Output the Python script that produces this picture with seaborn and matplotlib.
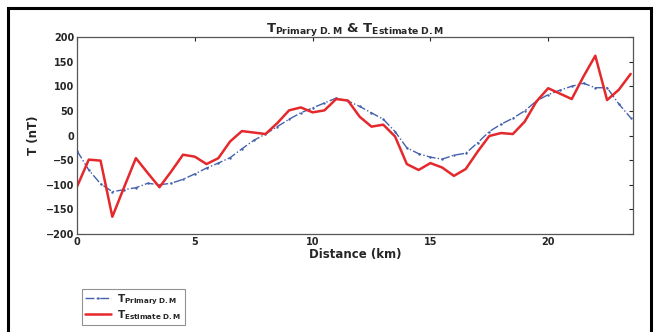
import numpy as np
import pandas as pd
import matplotlib
matplotlib.use("Agg")
import matplotlib.pyplot as plt
from matplotlib.patches import Rectangle
import seaborn as sns

distance = [0.0, 0.5, 1.0, 1.5, 2.0, 2.5, 3.0, 3.5, 4.0, 4.5, 5.0, 5.5, 6.0, 6.5, 7.0, 7.5,
            8.0, 8.5, 9.0, 9.5, 10.0, 10.5, 11.0, 11.5, 12.0, 12.5, 13.0, 13.5, 14.0, 14.5,
            15.0, 15.5, 16.0, 16.5, 17.0, 17.5, 18.0, 18.5, 19.0, 19.5, 20.0, 20.5, 21.0,
            21.5, 22.0, 22.5, 23.0, 23.5]
t_primary = [-31, -70, -98, -114, -110, -106, -97, -100, -97, -89, -78, -66, -56, -45, -27, -10,
             3, 18, 33, 46, 56, 66, 76, 70, 59, 46, 33, 8, -25, -37,
             -44, -48, -40, -36, -15, 8, 23, 35, 50, 70, 83, 92, 100,
             106, 97, 97, 64, 36]
t_estimate = [-104, -49, -51, -165, -105, -46, -76, -105, -73, -39, -43, -58, -46, -12, 9, 6,
              3, 25, 51, 57, 47, 51, 74, 71, 38, 18, 22, -2, -58, -70,
              -56, -65, -82, -68, -33, -1, 5, 3, 28, 69, 96, 85, 74,
              120, 162, 72, 93, 125]
label_primary = r'$\mathbf{T_{Primary\ D.M}}$'
label_estimate = r'$\mathbf{T_{Estimate\ D.M}}$'
title_text = r'$\mathbf{T_{Primary\ D.M}}$ & $\mathbf{T_{Estimate\ D.M}}$'
x_ticks = [0, 5, 10, 15, 20]
y_ticks = [-200, -150, -100, -50, 0, 50, 100, 150, 200]

sns.set_style("white")
plt.rcParams['font.family'] = ['DejaVu Sans']
plt.rcParams['mathtext.fontset'] = 'dejavusans'

df = pd.DataFrame({"Distance": distance, "Primary": t_primary, "Estimate": t_estimate})

fig = plt.figure(figsize=(6.6, 3.32), dpi=100)
ax = fig.add_axes([77/660, 1-234/332, (633-77)/660, (234-37)/332])

sns.lineplot(data=df, x="Distance", y="Primary", ax=ax, color="#4461ad", linestyle="-.",
             linewidth=1.0, marker=".", markersize=3.5, markeredgewidth=0, label=label_primary)
sns.lineplot(data=df, x="Distance", y="Estimate", ax=ax, color="#e5282b", linestyle="-",
             linewidth=1.8, label=label_estimate)

ax.set_xlim(0, 23.6)
ax.set_ylim(-200, 200)
ax.set_xticks(x_ticks)
ax.set_yticks(y_ticks)
ax.tick_params(direction="in", length=3, width=0.8, top=True, right=True,
               labelsize=7, pad=2)
for lab in ax.get_xticklabels() + ax.get_yticklabels():
    lab.set_fontweight("bold")
for s in ax.spines.values():
    s.set_color("#555555")
    s.set_linewidth(0.9)
ax.set_xlabel("Distance (km)", fontsize=8.5, fontweight="bold", labelpad=1)
ax.set_ylabel("T (nT)", fontsize=8.5, fontweight="bold", labelpad=4)
ax.set_title(title_text, fontsize=9.5, fontweight="bold", pad=4)

leg = ax.legend(loc="lower left", bbox_to_anchor=(82/660, 7/332), bbox_transform=fig.transFigure,
                borderaxespad=0, fontsize=7.5, frameon=True, fancybox=False, edgecolor="#777777",
                handlelength=2.5, borderpad=0.3, labelspacing=0.15, handletextpad=0.6)
leg.get_frame().set_linewidth(0.8)

fig.patches.append(Rectangle((8/660, -0.05), 643/660, 1.05 - 8/332, transform=fig.transFigure,
                             fill=False, edgecolor="black", linewidth=2.2))

fig.savefig("out.png", dpi=100)
